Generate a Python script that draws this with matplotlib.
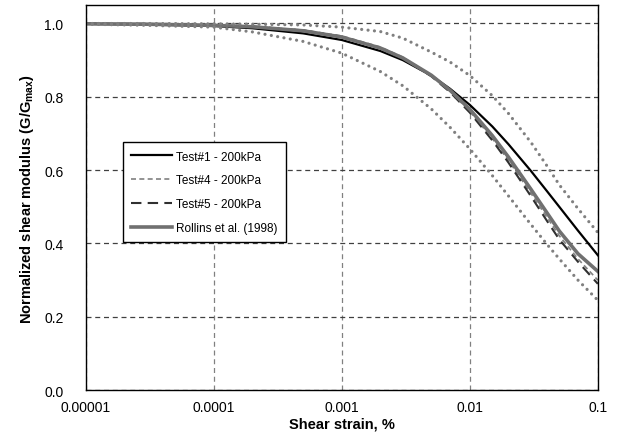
import matplotlib
matplotlib.use("Agg")
import matplotlib.pyplot as plt

plt.rcParams['font.family'] = ['Liberation Sans', 'DejaVu Sans']
plt.rcParams['mathtext.fontset'] = 'custom'
plt.rcParams['mathtext.rm'] = 'Liberation Sans:bold'
plt.rcParams['mathtext.bf'] = 'Liberation Sans:bold'

strain = [1e-5, 3e-5, 1e-4, 2e-4, 5e-4, 1e-3, 2e-3, 3e-3, 5e-3, 7e-3,
          1e-2, 1.5e-2, 2e-2, 3e-2, 4e-2, 5e-2, 7e-2, 1e-1]

test1 = [0.999, 0.997, 0.993, 0.987, 0.973, 0.955, 0.925, 0.900, 0.858, 0.822,
         0.778, 0.719, 0.671, 0.598, 0.543, 0.500, 0.435, 0.368]
test4 = [1.000, 0.999, 0.996, 0.992, 0.982, 0.966, 0.936, 0.908, 0.859, 0.816,
         0.760, 0.686, 0.627, 0.537, 0.472, 0.421, 0.358, 0.300]
test5 = [1.000, 0.999, 0.996, 0.992, 0.981, 0.964, 0.933, 0.905, 0.856, 0.813,
         0.757, 0.681, 0.621, 0.529, 0.462, 0.411, 0.350, 0.290]
rollins = [0.999, 0.998, 0.995, 0.991, 0.980, 0.963, 0.933, 0.906, 0.859, 0.818,
           0.766, 0.694, 0.636, 0.548, 0.484, 0.434, 0.372, 0.324]
rollins_upper = [1.000, 1.000, 0.999, 0.998, 0.996, 0.990, 0.978, 0.960, 0.922, 0.895,
                 0.858, 0.803, 0.755, 0.676, 0.612, 0.560, 0.495, 0.430]
rollins_lower = [0.998, 0.995, 0.990, 0.977, 0.951, 0.919, 0.869, 0.830, 0.767, 0.717,
                 0.658, 0.585, 0.530, 0.452, 0.398, 0.358, 0.300, 0.245]

xticks = [1e-5, 1e-4, 1e-3, 1e-2, 1e-1]
xtick_labels = ['0.00001', '0.0001', '0.001', '0.01', '0.1']
yticks = [0.0, 0.2, 0.4, 0.6, 0.8, 1.0]
ytick_labels = ['0.0', '0.2', '0.4', '0.6', '0.8', '1.0']

fig = plt.figure(figsize=(6.26, 4.39), dpi=100)
ax = fig.add_axes([0.137, 0.109, 0.818, 0.877])

ax.plot(strain, test1, color='black', lw=1.6, label='Test#1 - 200kPa')
ax.plot(strain, test4, color='#808080', lw=1.2, ls=(0, (3, 2)), label='Test#4 - 200kPa')
ax.plot(strain, test5, color='#303030', lw=1.5, ls=(0, (5, 3)), label='Test#5 - 200kPa')
ax.plot(strain, rollins, color='#707070', lw=2.6, label='Rollins et al. (1998)')
# +/- one standard deviation bounds (not in legend)
ax.plot(strain, rollins_upper, color='#808080', lw=2.3, ls=(0, (0.01, 2.0)),
        dash_capstyle='round')
ax.plot(strain, rollins_lower, color='#808080', lw=2.3, ls=(0, (0.01, 2.0)),
        dash_capstyle='round')

ax.set_xscale('log')
ax.set_xlim(1e-5, 1e-1)
ax.set_ylim(0, 1.05)
ax.set_xticks(xticks)
ax.set_xticklabels(xtick_labels)
ax.set_yticks(yticks)
ax.set_yticklabels(ytick_labels)
ax.minorticks_off()
ax.tick_params(length=0, labelsize=10)
ax.tick_params(axis='x', pad=7)
ax.tick_params(axis='y', pad=16)

ax.xaxis.grid(True, color='#808080', ls=(0, (4, 3)), lw=0.9)
ax.yaxis.grid(True, color='#404040', ls=(0, (4, 3)), lw=0.9)

for s in ax.spines.values():
    s.set_color('black')
    s.set_linewidth(1.0)

ax.set_xlabel('Shear strain, %', fontsize=10.5, fontweight='bold', labelpad=2)
ax.set_ylabel(r'Normalized shear modulus (G/G$_{\mathrm{max}}$)', fontsize=10.5,
              fontweight='bold', labelpad=6)

leg = ax.legend(loc='lower left', bbox_to_anchor=(0.072, 0.384), fontsize=8.5,
                fancybox=False, edgecolor='black', framealpha=1.0,
                borderaxespad=0, handlelength=3.5, labelspacing=1.0,
                handletextpad=0.3, borderpad=0.7)
leg.get_frame().set_linewidth(1.0)

fig.savefig('out.png', dpi=100)
